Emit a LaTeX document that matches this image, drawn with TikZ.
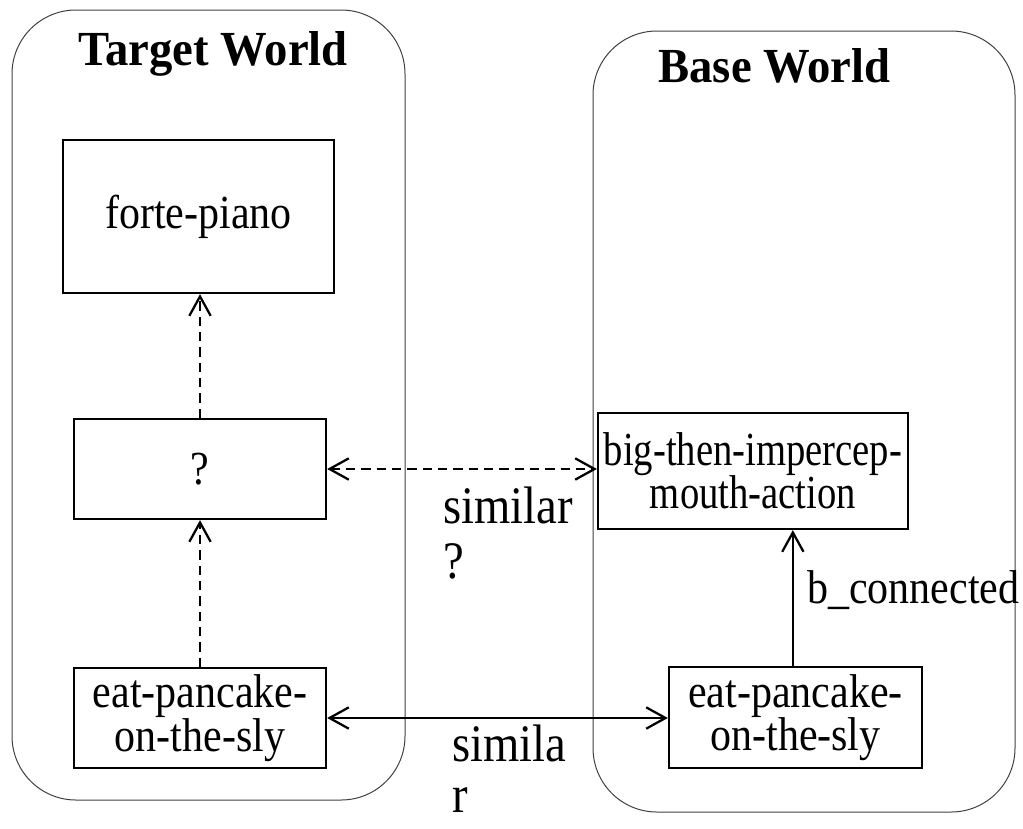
\documentclass[tikz,border=0pt]{standalone}
\usepackage{fontspec}
\usepackage{graphicx}
\setmainfont{Liberation Serif}
\usetikzlibrary{arrows.meta}
\newcommand\vstr[1]{\scalebox{1}[1.13]{#1}}
\newcommand\vstrb[1]{\scalebox{0.92}[1.13]{#1}}
\begin{document}
\begin{tikzpicture}[x=0.75pt,y=-0.75pt,
  world/.style={draw=black!75, line width=0.75pt, rounded corners=48pt, inner sep=0pt},
  box/.style={draw, line width=1.7pt, inner sep=0pt, align=center, font=\fontsize{31.5}{32.5}\selectfont},
  title/.style={font=\fontsize{35}{40}\selectfont\bfseries, inner sep=0pt, anchor=base},
  lbl/.style={font=\fontsize{35}{41.25}\selectfont, inner sep=0pt, align=left, anchor=base west},
  slbl/.style={font=\fontsize{31.5}{32}\selectfont, inner sep=0pt, anchor=base west},
  barb/.tip={Straight Barb[length=14.5pt,width=16pt,line width=1.7pt]},
  conn/.style={line width=1.7pt},
  dconn/.style={line width=1.7pt, dash pattern=on 7pt off 4.5pt}
]
\useasboundingbox (0,0) rectangle (1023,828);
% containers
\node[world, minimum width=294.75pt, minimum height=592.5pt] (tw) at (208.5,405) {};
\node[world, minimum width=316.5pt, minimum height=585.75pt] (bw) at (804,421.5) {};
\node[title] (twt) at (213,65) {\scalebox{1}[1.05]{Target World}};
\node[title] (bwt) at (774.5,82) {\scalebox{1}[1.05]{Base World}};
% boxes
\node[box, minimum width=203.25pt, minimum height=114.75pt] (forte) at (198.5,216.5) {\vstr{forte-piano}};
\node[box, minimum width=189pt, minimum height=75pt] (q) at (200,469) {\vstr{?}};
\node[box, minimum width=189pt, minimum height=75pt] (eatL) at (200,718) {\vstr{eat-pancake-}\\\vstr{on-the-sly}};
\node[box, minimum width=232.5pt, minimum height=87pt] (big) at (753,471) {\vstrb{big-then-impercep-}\\\vstrb{mouth-action}};
\node[box, minimum width=189.75pt, minimum height=75.75pt] (eatR) at (795.5,717.5) {\vstr{eat-pancake-}\\\vstr{on-the-sly}};
% connectors
\draw[dconn, -{barb}] (q.north) -- (q.north |- forte.south);
\draw[dconn, -{barb}] (eatL.north) -- (eatL.north |- q.south);
\draw[dconn, {barb}-{barb}] (q.east) -- (q.east -| big.west);
\draw[conn, {barb}-{barb}] (eatL.east) -- (eatL.east -| eatR.west);
\draw[conn, -{barb}] ([xshift=-2pt]eatR.north) -- ([xshift=-2pt]eatR.north |- big.south);
% labels
\node[lbl] (l1) at (443,578) {\vstr{similar}\\\vstr{?}};
\node[lbl, font=\fontsize{35}{38}\selectfont] (l2) at (452,812) {\vstr{simila}\\\vstr{r}};
\node[slbl] (l3) at (807,603) {\vstr{b\_connected}};
\end{tikzpicture}
\end{document}
